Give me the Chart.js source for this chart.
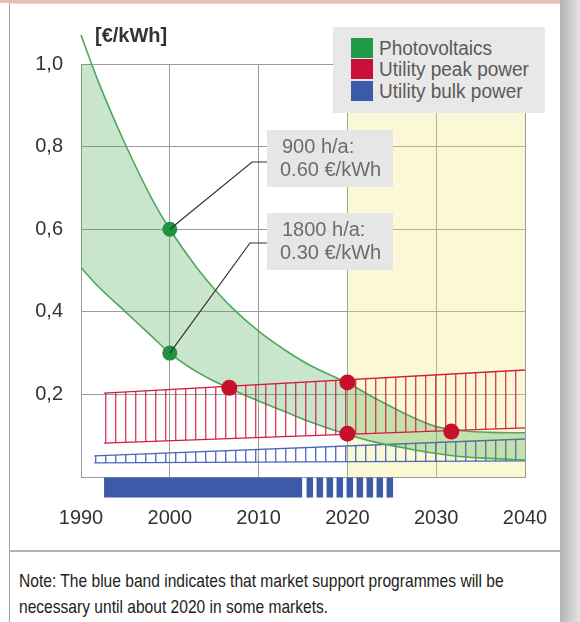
<!DOCTYPE html>
<html>
<head>
<meta charset="utf-8">
<script src="https://cdn.jsdelivr.net/npm/chart.js@4.4.1/dist/chart.umd.min.js"></script>
<style>
html,body{margin:0;padding:0;background:#fff;}
body{width:580px;height:622px;position:relative;overflow:hidden;font-family:"Liberation Sans",Arial,sans-serif;}
#topbar{position:absolute;left:0;top:0;width:560px;height:3px;background:#e8c0ab;}
#topline{position:absolute;left:9px;top:3px;width:551px;height:1px;background:#dcdcdc;}
#leftline{position:absolute;left:9px;top:4px;width:1px;height:618px;background:#a0a0a0;}
#shadow{position:absolute;left:560px;top:0;width:20px;height:622px;background:linear-gradient(to right,#b3b3b3,#e4e4e4);}
#sep{position:absolute;left:9px;top:550px;width:551px;height:2px;background:#b4b4b4;}
#note{position:absolute;left:19px;top:568px;font-size:19px;line-height:26px;color:#222;white-space:nowrap;transform:scaleX(0.82);transform-origin:0 0;}
#chart{position:absolute;left:0;top:0;}
#unit{position:absolute;left:95px;top:23px;font-size:20px;line-height:24px;font-weight:bold;color:#333;}
#legend{position:absolute;left:333px;top:27px;width:212px;height:86px;background:#e8e8e8;}
.sw{position:absolute;left:18px;width:22px;height:20px;}
.lt{position:absolute;left:46px;font-size:20px;line-height:22px;color:#5a5a5a;white-space:nowrap;transform:scaleX(0.95);transform-origin:0 50%;}
</style>
</head>
<body>
<div id="topbar"></div><div id="topline"></div><div id="leftline"></div><div id="shadow"></div><div id="sep"></div>
<canvas id="chart" width="580" height="550"></canvas>
<div id="unit"></div>
<div id="legend"></div>
<div id="note"></div>
<script>
// ---------- data ----------
const xTicks = [1990, 2000, 2010, 2020, 2030, 2040];
const yTicks = [0, 0.2, 0.4, 0.6, 0.8, 1.0];
const yTickLabels = ['', '0,2', '0,4', '0,6', '0,8', '1,0'];

const pvYears  = [1990, 1992, 1995, 1998, 2000, 2003, 2005, 2007, 2010, 2013, 2016, 2020, 2023, 2027, 2030, 2033, 2036, 2040];
const pv900h   = [1.07, 0.955, 0.805, 0.673, 0.60, 0.508, 0.456, 0.41, 0.353, 0.307, 0.268, 0.228, 0.192, 0.148, 0.122, 0.112, 0.108, 0.107];
const pv1800h  = [0.507, 0.46, 0.40, 0.34, 0.30, 0.255, 0.232, 0.212, 0.184, 0.158, 0.132, 0.103, 0.085, 0.068, 0.057, 0.049, 0.045, 0.041];

const peakYears = [1992.6, 2040];
const peakHigh  = [0.203, 0.259];
const peakLow   = [0.082, 0.119];

const bulkYears = [1991.5, 2040];
const bulkHigh  = [0.051, 0.092];
const bulkLow   = [0.034, 0.039];

const pvDotYears    = [2000, 2000];
const pvDotValues   = [0.60, 0.30];
const peakDotYears  = [2006.7, 2020, 2020, 2031.7];
const peakDotValues = [0.216, 0.229, 0.105, 0.110];

const supportYears   = [1992.6, 2014.9];
const phaseOutYears  = [2015.4, 2025.3];
const highlightYears = [2020, 2040];

const noteLabels   = [['900 h/a:', '0.60 €/kWh'], ['1800 h/a:', '0.30 €/kWh']];
const legendLabels = ['Photovoltaics', 'Utility peak power', 'Utility bulk power'];
const unitLabel    = '[€/kWh]';
const noteText     = ['Note: The blue band indicates that market support programmes will be',
                      'necessary until about 2020 in some markets.'];

// ---------- styles / layout ----------
const GREEN = '#4ea85e', GREEN_DOT = '#1f9342', GREEN_FILL = 'rgba(60,160,70,0.28)';
const RED = '#d31c40', RED_DOT = '#c8102e';
const BLUE = '#4a66bb', BAND_BLUE = '#3d5aa8';
const GRID = '#9b9b9b';
const SUPPORT_Y = -0.0255;      // vertical placement of the support band below the axis
const legendColors = ['#1f9a48', '#c8103a', '#3b5aab'];
const noteBoxes = [
  {x: 267, y: 130, w: 126, h: 57, elbowX: 252, elbowY: 162},
  {x: 267, y: 213, w: 126, h: 57, elbowX: 250, elbowY: 243}
];

function stripes(color, offset) {
  const c = document.createElement('canvas');
  c.width = 10; c.height = 10;
  const g = c.getContext('2d');
  g.fillStyle = color;
  g.fillRect(offset, 0, 1.4, 10);
  return g.createPattern(c, 'repeat');
}

const pts = (xs, ys) => xs.map((x, i) => ({x, y: ys[i]}));

// ---------- html texts ----------
document.getElementById('unit').textContent = unitLabel;
const lg = document.getElementById('legend');
const swTops = [11, 32, 54];
legendLabels.forEach((t, i) => {
  const s = document.createElement('div'); s.className = 'sw';
  s.style.top = swTops[i] + 'px'; s.style.background = legendColors[i]; lg.appendChild(s);
  const l = document.createElement('div'); l.className = 'lt';
  l.style.top = (swTops[i] - 1) + 'px'; l.textContent = t; lg.appendChild(l);
});
document.getElementById('note').innerHTML = noteText.join('<br>');

// ---------- chart ----------
Chart.defaults.font.family = '"Liberation Sans", Arial, sans-serif';

const notesPlugin = {
  id: 'notes',
  afterDatasetsDraw(chart) {
    const {ctx, scales: {x, y}} = chart;
    noteBoxes.forEach((b, i) => {
      const px = x.getPixelForValue(pvDotYears[i]);
      const py = y.getPixelForValue(pvDotValues[i]);
      ctx.save();
      ctx.strokeStyle = '#333'; ctx.lineWidth = 1.2;
      ctx.beginPath(); ctx.moveTo(px, py); ctx.lineTo(b.elbowX, b.elbowY); ctx.lineTo(b.x, b.elbowY); ctx.stroke();
      ctx.fillStyle = '#e6e6e6'; ctx.fillRect(b.x, b.y, b.w, b.h);
      ctx.fillStyle = '#6c6c6c'; ctx.font = '20px "Liberation Sans", Arial, sans-serif';
      ctx.textBaseline = 'middle'; ctx.textAlign = 'left';
      ctx.fillText(noteLabels[i][0], b.x + 15, b.y + 17);
      ctx.fillText(noteLabels[i][1], b.x + 13, b.y + 40);
      ctx.restore();
    });
  }
};

new Chart(document.getElementById('chart'), {
  type: 'line',
  data: {
    datasets: [
      {label: 'highlight', data: highlightYears.map(x => ({x, y: yTicks[yTicks.length - 1]})),
       fill: 'origin', backgroundColor: 'rgba(242,232,128,0.32)', borderWidth: 0, pointRadius: 0, order: 100},
      {label: 'Utility bulk power low', data: pts(bulkYears, bulkLow), borderColor: BLUE, borderWidth: 1.3,
       pointRadius: 0, fill: false, order: 91},
      {label: 'Utility bulk power high', data: pts(bulkYears, bulkHigh), borderColor: BLUE, borderWidth: 1.3,
       pointRadius: 0, fill: '-1', backgroundColor: stripes('rgba(70,100,190,0.9)', 5), order: 90},
      {label: 'PV 1800 h/a', data: pts(pvYears, pv1800h), borderColor: GREEN, borderWidth: 1.6,
       pointRadius: 0, cubicInterpolationMode: 'monotone', fill: false, order: 81},
      {label: 'PV 900 h/a', data: pts(pvYears, pv900h), borderColor: GREEN, borderWidth: 1.6,
       pointRadius: 0, cubicInterpolationMode: 'monotone', fill: '-1', backgroundColor: GREEN_FILL, clip: false, order: 80},
      {label: 'Utility peak power low', data: pts(peakYears, peakLow), borderColor: RED, borderWidth: 1.4,
       pointRadius: 0, fill: false, order: 71},
      {label: 'Utility peak power high', data: pts(peakYears, peakHigh), borderColor: RED, borderWidth: 1.4,
       pointRadius: 0, fill: '-1', backgroundColor: stripes('rgba(210,25,60,0.8)', 5), order: 70},
      {label: 'PV points', data: pts(pvDotYears, pvDotValues), showLine: false, pointRadius: 7.5,
       pointBackgroundColor: GREEN_DOT, pointBorderWidth: 0, order: 10},
      {label: 'Peak points', data: pts(peakDotYears, peakDotValues), showLine: false, pointRadius: 8,
       pointBackgroundColor: RED_DOT, pointBorderWidth: 0, order: 10},
      {label: 'Market support', data: supportYears.map(x => ({x, y: SUPPORT_Y})), borderColor: BAND_BLUE,
       borderWidth: 20, borderCapStyle: 'butt', pointRadius: 0, clip: false, fill: false, order: 5},
      {label: 'Market support phase-out', data: phaseOutYears.map(x => ({x, y: SUPPORT_Y})), borderColor: BAND_BLUE,
       borderWidth: 20, borderCapStyle: 'butt', borderDash: [6.5, 3.5], pointRadius: 0, clip: false, fill: false, order: 5}
    ]
  },
  options: {
    responsive: false,
    animation: false,
    devicePixelRatio: 1,
    layout: {padding: {top: 64, right: 55, left: 0, bottom: 0}},
    plugins: {legend: {display: false}, tooltip: {enabled: false}, title: {display: false}},
    events: [],
    scales: {
      x: {
        type: 'linear', min: xTicks[0], max: xTicks[xTicks.length - 1],
        afterBuildTicks: s => { s.ticks = xTicks.map(value => ({value})); },
        afterFit: s => { s.height = 73; },
        ticks: {callback: v => String(v), color: '#333', font: {size: 20}, padding: 29, maxRotation: 0, autoSkip: false},
        grid: {color: GRID, lineWidth: 1, drawTicks: false},
        border: {color: GRID, width: 1}
      },
      y: {
        type: 'linear', min: yTicks[0], max: yTicks[yTicks.length - 1],
        afterBuildTicks: s => { s.ticks = yTicks.map(value => ({value})); },
        afterFit: s => { s.width = 81; },
        ticks: {callback: (v, i) => yTickLabels[i], color: '#333', font: {size: 20}, padding: 18, autoSkip: false},
        grid: {color: GRID, lineWidth: 1, drawTicks: false},
        border: {color: GRID, width: 1}
      }
    }
  },
  plugins: [notesPlugin]
});
</script>
</body>
</html>
